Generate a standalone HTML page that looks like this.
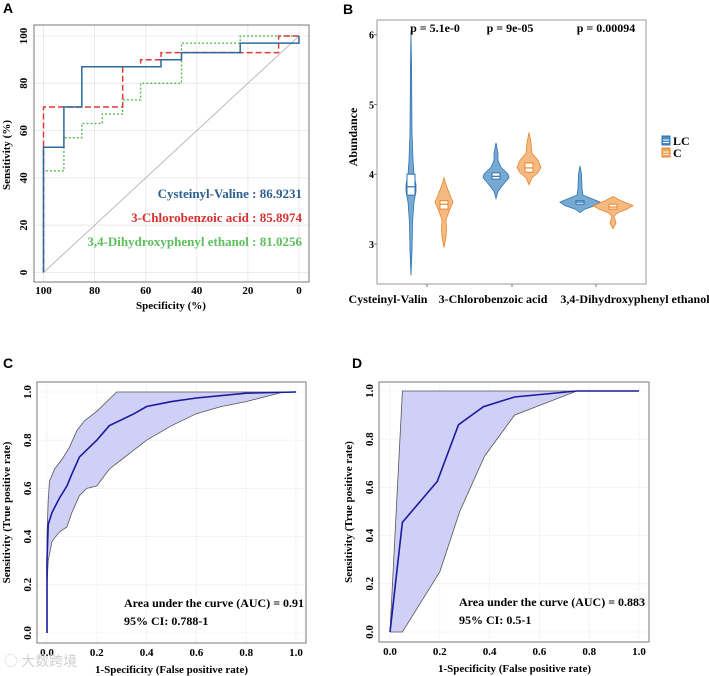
<!DOCTYPE html>
<html><head><meta charset="utf-8"><style>
body{margin:0;background:#fff;}
svg{display:block;font-family:"Liberation Serif",serif;}
.t{font-weight:bold;}
</style></head><body>
<svg id="fig" width="709" height="676" viewBox="0 0 709 676"></svg>
<script>
// ---------- Panel A data ----------
const aBlueX=[100,100,92,92,85,85,54,54,46,46,23,23,0,0];
const aBlueY=[0,53,53,70,70,87,87,90,90,93,93,97,97,100];
const aRedX=[100,100,69,69,62,62,54,54,8,8,0];
const aRedY=[0,70,70,87,87,90,90,93,93,100,100];
const aGreenX=[100,100,92,92,85,85,77,77,69,69,62,62,46,46,23,23,0];
const aGreenY=[0,43,43,57,57,63,63,67,67,73,73,80,80,97,97,100,100];
const aTicks=[0,20,40,60,80,100];
const aLegend=["Cysteinyl-Valine : 86.9231","3-Chlorobenzoic acid : 85.8974","3,4-Dihydroxyphenyl ethanol : 81.0256"];
// ---------- Panel B data ----------
const bCategories=["Cysteinyl-Valin","3-Chlorobenzoic acid","3,4-Dihydroxyphenyl ethanol"];
const bPvals=["p = 5.1e-0","p = 9e-05","p = 0.00094"];
const bTicks=[3,4,5,6];
const bLCvals=[[2.55,2.9,3.3,3.6,3.75,3.85,4.0,4.2,4.6,5.0,5.5,6.05],[3.65,3.75,3.85,3.95,4.0,4.1,4.2,4.3,4.45],[3.45,3.5,3.55,3.6,3.65,3.7,3.8,4.0,4.12]];
const bLCdens=[[0,1,1.5,3,5,5,3,2,1,0.8,0.6,0],[0,2,7,13,12,5,2,2,0],[0,5,15,20,12,3,2,1.5,0]];
const bCvals=[[2.95,3.1,3.2,3.35,3.5,3.6,3.7,3.85,3.95],[3.85,3.95,4.02,4.1,4.2,4.3,4.45,4.6],[3.22,3.3,3.4,3.45,3.5,3.55,3.62,3.68]];
const bCdens=[[0,2,2.5,2,6,9,6,2,0],[0,3,9,12,9,3,2,0],[0,3,1,5,14,20,8,0]];
const bLCbox=[[3.7,3.82,4.0],[3.93,3.97,4.02],[3.57,3.6,3.62]];
const bCbox=[[3.5,3.57,3.62],[4.03,4.09,4.16],[3.5,3.53,3.57]];
// ---------- Panel C data ----------
const cMeanX=[0,0,0.005,0.02,0.05,0.08,0.1,0.13,0.17,0.2,0.25,0.3,0.35,0.4,0.5,0.6,0.8,1];
const cMeanY=[0,0.3,0.45,0.5,0.56,0.61,0.66,0.73,0.77,0.8,0.86,0.885,0.91,0.94,0.96,0.975,0.995,1];
const cUpX=[0,0,0.005,0.01,0.03,0.06,0.09,0.12,0.15,0.2,0.28,1];
const cUpY=[0,0.4,0.55,0.63,0.68,0.72,0.77,0.84,0.88,0.92,1,1];
const cLoX=[0,0,0.005,0.02,0.05,0.08,0.1,0.13,0.16,0.2,0.25,0.3,0.4,0.5,0.6,0.7,0.8,0.95,1];
const cLoY=[0,0.2,0.3,0.38,0.42,0.44,0.5,0.57,0.6,0.61,0.68,0.72,0.8,0.86,0.91,0.94,0.96,1,1];
// ---------- Panel D data ----------
const dMeanX=[0,0.05,0.19,0.275,0.375,0.5,0.75,1];
const dMeanY=[0,0.455,0.625,0.86,0.935,0.975,1,1];
const dUpX=[0,0.05,1];
const dUpY=[0,1,1];
const dLoX=[0,0.05,0.2,0.28,0.38,0.5,0.75,1];
const dLoY=[0,0,0.25,0.5,0.73,0.9,1,1];
const rocTicks=[0,0.2,0.4,0.6,0.8,1];

const NS="http://www.w3.org/2000/svg";
const fig=document.getElementById('fig');
function el(tag,attrs,parent,text){const e=document.createElementNS(NS,tag);for(const k in attrs)e.setAttribute(k,attrs[k]);if(text!==undefined)e.textContent=text;(parent||fig).appendChild(e);return e;}
function lin(d0,d1,r0,r1){return v=>r0+(v-d0)/(d1-d0)*(r1-r0);}
function pts(xs,ys,sx,sy){return xs.map((x,i)=>sx(x).toFixed(1)+','+sy(ys[i]).toFixed(1)).join(' ');}

// panel letters
[["A",3,13],["B",343,14],["C",3,368],["D",352,368]].forEach(p=>{
  const t=el('text',{x:p[1],y:p[2],'font-family':'Liberation Sans, sans-serif','font-weight':'bold','font-size':14},fig,p[0]);
  
  
});

// ===== Panel A =====
{
const g=el('g',{});


const sx=lin(100,0,43.5,299), sy=lin(0,100,272.5,36);
aTicks.forEach(v=>{
  el('line',{x1:sx(v),x2:sx(v),y1:25,y2:282,stroke:'#e6e6e6','stroke-width':0.8},g);
  el('line',{x1:34,x2:309,y1:sy(v),y2:sy(v),stroke:'#e6e6e6','stroke-width':0.8},g);
});
el('rect',{x:34,y:25,width:275,height:257,fill:'none',stroke:'#777','stroke-width':1},g);
el('line',{x1:sx(100),y1:sy(0),x2:sx(0),y2:sy(100),stroke:'#bbb','stroke-width':1},g);
aTicks.forEach(v=>{
  const t=el('text',{x:sx(v),y:294,'text-anchor':'middle','font-size':11,class:'t'},g,String(v));
  
  
  const u=el('text',{x:0,y:0,transform:`translate(27,${sy(v)}) rotate(-90)`,'text-anchor':'middle','font-size':11,class:'t'},g,String(v));
  
  
});
const gl=el('polyline',{points:pts(aGreenX,aGreenY,sx,sy),fill:'none',stroke:'#4cb84c','stroke-width':1.3,'stroke-dasharray':'2,2'},g);


const rl=el('polyline',{points:pts(aRedX,aRedY,sx,sy),fill:'none',stroke:'#e0393b','stroke-width':1.5,'stroke-dasharray':'6,3'},g);


const bl=el('polyline',{points:pts(aBlueX,aBlueY,sx,sy),fill:'none',stroke:'#2e6a99','stroke-width':1.5},g);


const cols=['#2e5f8f','#d7322f','#5cbf5c'];
aLegend.forEach((s,i)=>{
  const t=el('text',{x:302,y:198+i*24,'text-anchor':'end','font-size':13,class:'t',fill:cols[i]},g,s);
  
  
});
const xt=el('text',{x:171,y:309,'text-anchor':'middle','font-size':11,class:'t'},g,'Specificity (%)');


const yt=el('text',{x:0,y:0,transform:'translate(10,155) rotate(-90)','text-anchor':'middle','font-size':11,class:'t'},g,'Sensitivity (%)');


}

// ===== Panel B =====
{
const g=el('g',{});


const sy=lin(3,6,244,34.7);
const cx=[427,512,596];
const labelX=[388,493,635];
el('rect',{x:377,y:20,width:269,height:264,fill:'none',stroke:'#999','stroke-width':1},g);
bTicks.forEach(v=>{
  const t=el('text',{x:374,y:sy(v)+4,'text-anchor':'end','font-size':10,class:'t'},g,String(v));
  
  
  el('line',{x1:374,x2:377,y1:sy(v),y2:sy(v),stroke:'#777'},g);
});
function violin(c,vals,dens,box,fill,stroke,boxfill,name){
  const vg=el('g',{},g);
  
  
  let right=vals.map((v,i)=>(c+dens[i]).toFixed(1)+','+sy(v).toFixed(1));
  let left=vals.slice().reverse().map((v,i)=>(c-dens[dens.length-1-i]).toFixed(1)+','+sy(v).toFixed(1));
  el('polygon',{points:right.concat(left).join(' '),fill:fill,'fill-opacity':0.75,stroke:stroke,'stroke-width':0.8},vg);
  const bw=4;
  el('rect',{x:c-bw,y:sy(box[2]),width:bw*2,height:sy(box[0])-sy(box[2]),fill:boxfill,stroke:stroke,'stroke-width':1},vg);
  el('line',{x1:c-bw,x2:c+bw,y1:sy(box[1]),y2:sy(box[1]),stroke:stroke,'stroke-width':1.2},vg);
}
bCategories.forEach((cat,i)=>{
  violin(cx[i]-16,bLCvals[i],bLCdens[i],bLCbox[i],'#4a8cc4','#2f74b0','#fff','violin-lc-'+i);
  violin(cx[i]+17,bCvals[i],bCdens[i],bCbox[i],'#f2a35a','#e8852a','#fff','violin-c-'+i);
  el('line',{x1:cx[i],x2:cx[i],y1:284,y2:287,stroke:'#777'},g);
  const t=el('text',{x:labelX[i],y:303,'text-anchor':'middle','font-size':12,class:'t'},g,cat);
  
  
});
const px=[435,510,606];
bPvals.forEach((p,i)=>{
  const t=el('text',{x:px[i],y:32,'text-anchor':'middle','font-size':12,class:'t'},g,p);
  
  
});
const yt=el('text',{x:0,y:0,transform:'translate(357,137) rotate(-90)','text-anchor':'middle','font-size':12,class:'t'},g,'Abundance');


[['LC','#2f74b0','#4a8cc4',141],['C','#e8852a','#f2a35a',153]].forEach(l=>{
  const lg=el('g',{},g);
  
  
  el('rect',{x:662,y:l[3]-5,width:8,height:9,fill:l[2],stroke:l[1]},lg);
  el('line',{x1:663,x2:669,y1:l[3]-1,y2:l[3]-1,stroke:'#fff'},lg);
  el('line',{x1:663,x2:669,y1:l[3]+1.5,y2:l[3]+1.5,stroke:'#fff'},lg);
  el('text',{x:673,y:l[3]+4,'font-size':12,class:'t'},lg,l[0]);
});
}

// ===== Panels C, D =====
function rocPanel(name,box,x0,x1,y0,y1,mx,my,ux,uy,lx,ly,auc,ci,tx,ty){
  const g=el('g',{});
  
  
  const sx=lin(0,1,x0,x1), sy=lin(0,1,y0,y1);
  rocTicks.forEach(v=>{
    el('line',{x1:sx(v),x2:sx(v),y1:box[1],y2:box[3],stroke:'#e6e6e6','stroke-width':0.8,'stroke-dasharray':'1,1'},g);
    el('line',{x1:box[0],x2:box[2],y1:sy(v),y2:sy(v),stroke:'#e6e6e6','stroke-width':0.8,'stroke-dasharray':'1,1'},g);
  });
  const up=pts(ux,uy,sx,sy);
  const lo=lx.slice().reverse().map((x,i)=>sx(x).toFixed(1)+','+sy(ly[ly.length-1-i]).toFixed(1)).join(' ');
  const band=el('polygon',{points:up+' '+lo,fill:'#cfd0f5',stroke:'none'},g);
  
  
  el('polyline',{points:up,fill:'none',stroke:'#555','stroke-width':0.8},g);
  el('polyline',{points:pts(lx,ly,sx,sy),fill:'none',stroke:'#555','stroke-width':0.8},g);
  const m=el('polyline',{points:pts(mx,my,sx,sy),fill:'none',stroke:'#1a1aa0','stroke-width':1.6},g);
  
  
  el('rect',{x:box[0],y:box[1],width:box[2]-box[0],height:box[3]-box[1],fill:'none',stroke:'#777'},g);
  rocTicks.forEach(v=>{
    const s=v.toFixed(1);
    const t=el('text',{x:sx(v),y:box[3]+13,'text-anchor':'middle','font-size':11,class:'t'},g,s);
    
    
    const u=el('text',{x:0,y:0,transform:`translate(${box[0]-6},${sy(v)}) rotate(-90)`,'text-anchor':'middle','font-size':11,class:'t'},g,s);
    
    
  });
  const a=el('text',{x:tx,y:ty,'font-size':12,class:'t'},g,auc);
  
  
  const c=el('text',{x:tx,y:ty+18,'font-size':12,class:'t'},g,ci);
  
  
  const xt=el('text',{x:(x0+x1)/2,y:box[3]+30,'text-anchor':'middle','font-size':11,class:'t'},g,'1-Specificity (False positive rate)');
  
  
  const yt=el('text',{x:0,y:0,transform:`translate(${box[0]-27},${(box[1]+box[3])/2}) rotate(-90)`,'text-anchor':'middle','font-size':11,class:'t'},g,'Sensitivity (True positive rate)');
  
  
}
rocPanel('panel-c-roc-chart',[37,382,306,643],47,296,633,392,cMeanX,cMeanY,cUpX,cUpY,cLoX,cLoY,'Area under the curve (AUC) = 0.91','95% CI: 0.788-1',124,607);
rocPanel('panel-d-roc-chart',[379,382,649,642],390,639,632,391,dMeanX,dMeanY,dUpX,dUpY,dLoX,dLoY,'Area under the curve (AUC) = 0.883','95% CI: 0.5-1',459,606);
const wm=el('text',{x:4,y:666,'font-size':14,fill:'#d0d0d0','font-family':'Noto Sans CJK SC, sans-serif'},fig,'◌ 大数跨境');


</script>
</body></html>
